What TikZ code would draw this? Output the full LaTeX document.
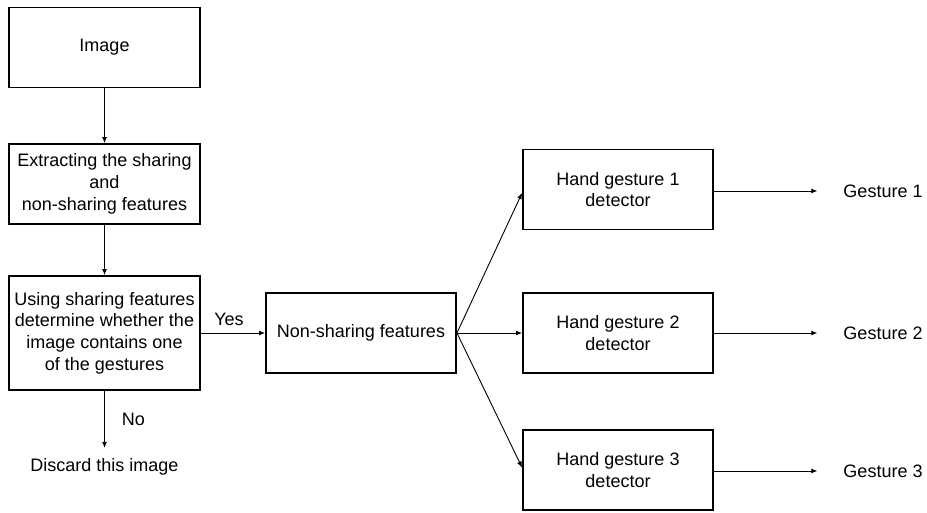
\documentclass[tikz,border=0pt]{standalone}
\usepackage{fontspec}
\setmainfont{Liberation Sans}
\usetikzlibrary{arrows.meta}
\begin{document}
\begin{tikzpicture}[x=1pt,y=-1pt,
  txt/.style={font=\fontsize{18}{21.7}\selectfont},
  box/.style={txt,draw=black,line width=1.9pt,minimum width=191pt,minimum height=80pt,align=center,inner sep=2pt},
  lbl/.style={txt,inner sep=0pt},
  conn/.style={line width=0.9pt,-{Latex[length=6pt,width=5pt]}}]
\useasboundingbox (0,0) rectangle (927,512);

% left column: input and filtering
\node[box] (img) at (104.5,47.5) {Image};
\node[box] (ext) at (104.5,184) {Extracting the sharing\\and\\non-sharing features};
\node[box,minimum height=114pt] (use) at (104.5,333) {Using sharing features\\determine whether the\\image contains one\\of the gestures};
\node[txt,minimum height=37pt,inner sep=0pt] (dis) at (104.5,466.5) {Discard this image};

% middle and right columns
\node[box,minimum width=190pt] (non) at (361,333) {Non-sharing features};
\node[box,minimum width=190pt] (h1) at (618,189.5) {Hand gesture 1\\detector};
\node[box,minimum width=190pt] (h2) at (618,333) {Hand gesture 2\\detector};
\node[box,minimum width=190pt] (h3) at (618,470) {Hand gesture 3\\detector};
\node[lbl] (g1) at (883,191) {Gesture 1};
\node[lbl] (g2) at (883,333) {Gesture 2};
\node[lbl] (g3) at (883,471) {Gesture 3};

% connectors
\draw[conn] (img) -- (ext);
\draw[conn] (ext) -- (use);
\draw[conn] (use) -- node[lbl,pos=0.5,xshift=29pt] {No} (dis);
\draw[conn] (use.east) -- node[lbl,above=7pt,xshift=-4pt] {Yes} (non.west);
\draw[conn] (non.east) -- ([yshift=-3.5pt]h1.west);
\draw[conn] (non.east) -- (h2.west);
\draw[conn] (non.east) -- ([yshift=2.5pt]h3.west);
\draw[conn,shorten >=26pt] (h1.east |- g1.west) -- (g1.west);
\draw[conn,shorten >=26pt] (h2.east |- g2.west) -- (g2.west);
\draw[conn,shorten >=26pt] (h3.east |- g3.west) -- (g3.west);
\end{tikzpicture}
\end{document}
